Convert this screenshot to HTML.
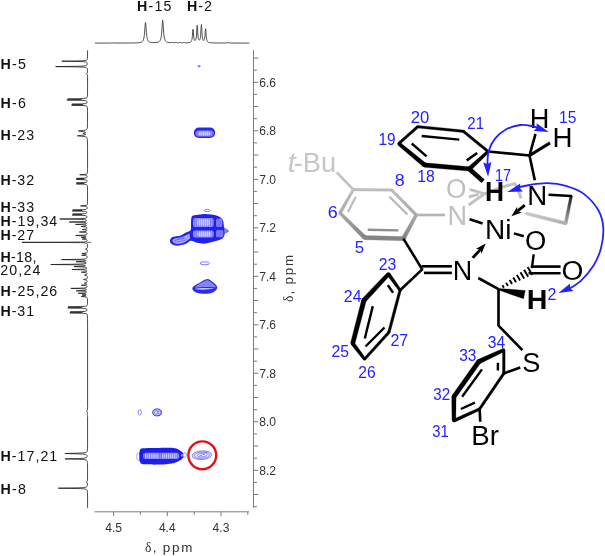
<!DOCTYPE html>
<html><head><meta charset="utf-8"><title>NOESY spectrum</title>
<style>html,body{margin:0;padding:0;background:#fff;}svg{display:block;will-change:transform;opacity:0.999}</style></head>
<body>
<svg width="605" height="556" viewBox="0 0 605 556" font-family='"Liberation Sans", "DejaVu Sans", sans-serif'>
<g stroke="#7a7a7a" stroke-width="1" fill="none" shape-rendering="auto">
<path d="M253.5 50.2V507.8"/>
<path d="M253.5 58.1h4.8"/>
<path d="M253.5 70.2h3.5"/>
<path d="M253.5 82.3h4.8"/>
<path d="M253.5 94.4h3.5"/>
<path d="M253.5 106.5h4.8"/>
<path d="M253.5 118.7h3.5"/>
<path d="M253.5 130.8h4.8"/>
<path d="M253.5 142.9h3.5"/>
<path d="M253.5 155.0h4.8"/>
<path d="M253.5 167.2h3.5"/>
<path d="M253.5 179.3h4.8"/>
<path d="M253.5 191.4h3.5"/>
<path d="M253.5 203.5h4.8"/>
<path d="M253.5 215.7h3.5"/>
<path d="M253.5 227.8h4.8"/>
<path d="M253.5 239.9h3.5"/>
<path d="M253.5 252.0h4.8"/>
<path d="M253.5 264.2h3.5"/>
<path d="M253.5 276.3h4.8"/>
<path d="M253.5 288.4h3.5"/>
<path d="M253.5 300.5h4.8"/>
<path d="M253.5 312.7h3.5"/>
<path d="M253.5 324.8h4.8"/>
<path d="M253.5 336.9h3.5"/>
<path d="M253.5 349.0h4.8"/>
<path d="M253.5 361.2h3.5"/>
<path d="M253.5 373.3h4.8"/>
<path d="M253.5 385.4h3.5"/>
<path d="M253.5 397.5h4.8"/>
<path d="M253.5 409.7h3.5"/>
<path d="M253.5 421.8h4.8"/>
<path d="M253.5 433.9h3.5"/>
<path d="M253.5 446.0h4.8"/>
<path d="M253.5 458.2h3.5"/>
<path d="M253.5 470.3h4.8"/>
<path d="M253.5 482.4h3.5"/>
<path d="M253.5 494.5h4.8"/>
<path d="M253.5 506.7h3.5"/>
<path d="M94.5 511.8H249"/>
<path d="M113.6 511.8v4.3"/>
<path d="M140.4 511.8v3"/>
<path d="M167.3 511.8v4.3"/>
<path d="M194.2 511.8v3"/>
<path d="M221.0 511.8v4.3"/>
<path d="M247.8 511.8v3"/>
</g>
<text x="259.2" y="86.6" font-size="12.0" fill="#333" font-weight="normal" font-style="normal" textLength="16.8" lengthAdjust="spacingAndGlyphs">6.6</text>
<text x="259.2" y="135.1" font-size="12.0" fill="#333" font-weight="normal" font-style="normal" textLength="16.8" lengthAdjust="spacingAndGlyphs">6.8</text>
<text x="259.2" y="183.6" font-size="12.0" fill="#333" font-weight="normal" font-style="normal" textLength="16.8" lengthAdjust="spacingAndGlyphs">7.0</text>
<text x="259.2" y="232.1" font-size="12.0" fill="#333" font-weight="normal" font-style="normal" textLength="16.8" lengthAdjust="spacingAndGlyphs">7.2</text>
<text x="259.2" y="280.6" font-size="12.0" fill="#333" font-weight="normal" font-style="normal" textLength="16.8" lengthAdjust="spacingAndGlyphs">7.4</text>
<text x="259.2" y="329.1" font-size="12.0" fill="#333" font-weight="normal" font-style="normal" textLength="16.8" lengthAdjust="spacingAndGlyphs">7.6</text>
<text x="259.2" y="377.6" font-size="12.0" fill="#333" font-weight="normal" font-style="normal" textLength="16.8" lengthAdjust="spacingAndGlyphs">7.8</text>
<text x="259.2" y="426.1" font-size="12.0" fill="#333" font-weight="normal" font-style="normal" textLength="16.8" lengthAdjust="spacingAndGlyphs">8.0</text>
<text x="259.2" y="474.6" font-size="12.0" fill="#333" font-weight="normal" font-style="normal" textLength="16.8" lengthAdjust="spacingAndGlyphs">8.2</text>
<text x="105.2" y="531.8" font-size="12.0" fill="#333" font-weight="normal" font-style="normal" textLength="16.8" lengthAdjust="spacingAndGlyphs">4.5</text>
<text x="158.9" y="531.8" font-size="12.0" fill="#333" font-weight="normal" font-style="normal" textLength="16.8" lengthAdjust="spacingAndGlyphs">4.4</text>
<text x="212.6" y="531.8" font-size="12.0" fill="#333" font-weight="normal" font-style="normal" textLength="16.8" lengthAdjust="spacingAndGlyphs">4.3</text>
<g transform="translate(145.1 551.8)" fill="#333">
<text x="0" y="0" font-size="13.6" font-family='"Liberation Serif", "DejaVu Serif", serif'>δ</text>
<text x="7.6" y="0" font-size="13.4">,</text>
<text x="17.6" y="0" font-size="13.4" textLength="29.6" lengthAdjust="spacing">ppm</text>
</g>
<g transform="translate(293.0 302.0) rotate(-90)" fill="#333">
<text x="0" y="0" font-size="13.6" font-family='"Liberation Serif", "DejaVu Serif", serif'>δ</text>
<text x="7.6" y="0" font-size="13.4">,</text>
<text x="17.6" y="0" font-size="13.4" textLength="29.6" lengthAdjust="spacing">ppm</text>
</g>
<path fill="none" stroke="#484848" stroke-width="0.95" stroke-linejoin="round" d="M94.90 43.09 L109.65 43.05 L110.90 42.99 L111.90 42.78 L113.15 42.99 L114.90 43.05 L133.15 42.96 L136.15 42.88 L138.40 42.73 L139.90 42.53 L141.15 42.20 L141.65 41.97 L142.15 41.65 L142.65 41.16 L142.90 40.82 L143.40 39.81 L143.90 38.04 L144.40 34.70 L144.65 32.04 L145.15 24.96 L145.40 22.48 L145.65 22.79 L146.40 32.62 L146.90 36.93 L147.40 39.20 L147.65 39.91 L148.15 40.85 L148.65 41.43 L149.40 41.93 L150.40 42.29 L151.40 42.47 L153.15 42.60 L155.15 42.59 L156.90 42.42 L158.15 42.12 L158.90 41.77 L159.40 41.41 L159.90 40.86 L160.15 40.47 L160.65 39.31 L161.15 37.24 L161.40 35.59 L161.65 33.32 L162.40 22.41 L162.65 20.19 L162.90 21.20 L163.65 32.19 L163.90 34.78 L164.40 38.01 L164.90 39.74 L165.15 40.30 L165.65 41.08 L166.40 41.75 L166.90 42.02 L167.65 42.29 L168.90 42.54 L170.40 42.65 L171.15 42.57 L171.90 42.22 L172.15 42.25 L172.90 42.65 L173.40 42.75 L174.15 42.78 L175.15 42.65 L175.90 42.22 L176.15 42.24 L176.90 42.69 L177.40 42.79 L178.15 42.83 L179.15 42.72 L179.90 42.34 L180.15 42.36 L180.90 42.73 L181.40 42.82 L182.15 42.84 L183.15 42.74 L183.90 42.42 L184.15 42.43 L184.90 42.73 L185.40 42.80 L187.90 42.73 L189.40 42.52 L190.40 42.15 L190.90 41.78 L191.40 41.09 L191.65 40.50 L191.90 39.58 L192.15 38.13 L192.40 35.79 L192.90 29.19 L193.15 29.58 L193.65 36.10 L193.90 38.12 L194.15 39.32 L194.40 40.00 L194.65 40.38 L194.90 40.53 L195.15 40.51 L195.40 40.32 L195.65 39.92 L195.90 39.22 L196.15 38.07 L196.40 36.15 L196.65 33.02 L197.15 25.29 L197.40 26.88 L197.90 34.99 L198.15 37.31 L198.40 38.69 L198.65 39.50 L198.90 39.95 L199.15 40.16 L199.40 40.17 L199.65 39.98 L199.90 39.56 L200.15 38.80 L200.40 37.51 L200.65 35.34 L201.15 27.20 L201.40 24.59 L201.65 27.22 L202.15 35.42 L202.40 37.61 L202.65 38.93 L202.90 39.73 L203.15 40.20 L203.40 40.44 L203.65 40.50 L203.90 40.38 L204.15 40.06 L204.40 39.44 L204.65 38.36 L204.90 36.51 L205.40 29.97 L205.65 28.72 L206.15 35.09 L206.40 37.69 L206.65 39.31 L206.90 40.33 L207.15 40.98 L207.40 41.43 L207.90 41.97 L208.40 42.27 L208.90 42.46 L209.90 42.67 L211.40 42.83 L216.15 42.99 L225.90 43.01 L226.90 42.92 L227.90 42.57 L228.15 42.59 L229.15 42.93 L230.65 43.04 L249.40 43.09"/>
<path fill="none" stroke="#1c1c1c" stroke-width="0.8" stroke-linejoin="round" d="M87.58 50.30 L87.54 56.05 L87.42 58.45 L87.29 59.15 L87.10 59.60 L86.81 59.95 L86.41 60.20 L85.80 60.40 L84.99 60.55 L81.73 60.80 L76.52 60.95 L61.74 61.20 L80.42 61.55 L83.48 61.70 L85.28 61.90 L85.96 62.05 L86.56 62.30 L86.90 62.60 L87.13 63.05 L87.23 63.85 L87.11 64.65 L86.82 65.15 L86.34 65.50 L85.60 65.75 L84.37 65.95 L80.34 66.20 L73.91 66.35 L55.65 66.60 L76.66 66.90 L83.30 67.15 L85.12 67.35 L85.82 67.50 L86.38 67.70 L86.77 67.95 L87.03 68.25 L87.22 68.65 L87.34 69.15 L87.49 70.95 L87.44 72.75 L87.36 73.05 L87.21 73.30 L86.56 73.80 L87.17 74.25 L87.38 74.55 L87.50 75.15 L87.55 76.35 L87.57 87.20 L87.52 94.10 L87.36 96.45 L87.22 97.10 L87.00 97.55 L86.57 97.95 L85.99 98.20 L85.02 98.40 L83.57 98.55 L78.86 98.75 L67.66 99.00 L79.33 99.30 L81.34 99.45 L81.44 99.50 L81.29 99.55 L80.89 99.60 L77.61 99.75 L66.88 100.00 L80.25 100.30 L84.01 100.50 L85.48 100.70 L86.28 100.95 L86.80 101.35 L87.04 101.90 L87.01 102.60 L86.72 103.10 L86.45 103.30 L86.09 103.45 L85.18 103.65 L81.96 103.90 L71.82 104.20 L81.06 104.50 L82.38 104.60 L82.67 104.65 L82.76 104.70 L82.65 104.75 L81.81 104.85 L79.84 104.95 L71.56 105.20 L81.91 105.50 L85.21 105.75 L86.15 105.95 L86.82 106.30 L87.18 106.80 L87.38 107.65 L87.49 109.15 L87.54 111.85 L87.52 123.55 L87.40 127.05 L87.27 128.05 L87.08 128.75 L86.80 129.25 L86.44 129.60 L85.90 129.90 L85.30 130.10 L83.70 130.40 L79.11 130.85 L78.36 131.00 L79.07 131.15 L83.51 131.60 L84.61 131.80 L85.36 132.05 L85.59 132.20 L85.72 132.40 L85.64 132.60 L85.41 132.75 L84.81 132.95 L83.22 133.25 L82.79 133.40 L82.99 133.50 L85.12 133.95 L85.52 134.15 L85.60 134.25 L85.62 134.40 L85.46 134.60 L85.06 134.80 L83.80 135.10 L81.72 135.35 L78.16 135.65 L77.37 135.80 L78.20 135.95 L83.30 136.40 L85.26 136.75 L86.08 137.05 L86.59 137.40 L86.96 137.90 L87.21 138.60 L87.37 139.60 L87.47 141.10 L87.56 147.15 L87.56 168.65 L87.51 171.65 L87.38 173.00 L87.24 173.45 L87.03 173.75 L86.64 174.00 L86.18 174.15 L84.30 174.40 L79.72 174.70 L84.28 175.00 L86.14 175.25 L86.69 175.45 L87.04 175.75 L87.21 176.20 L87.20 176.75 L87.05 177.20 L86.79 177.50 L86.28 177.75 L85.64 177.90 L83.64 178.10 L76.53 178.40 L82.99 178.70 L83.90 178.80 L84.10 178.85 L84.16 178.90 L84.08 178.95 L82.09 179.15 L76.23 179.40 L82.57 179.65 L85.24 179.85 L86.05 180.00 L86.49 180.15 L86.85 180.40 L87.04 180.70 L87.12 181.30 L86.95 181.80 L86.51 182.15 L85.88 182.35 L83.63 182.60 L76.53 182.90 L83.00 183.20 L83.92 183.30 L84.12 183.35 L84.18 183.40 L84.11 183.45 L82.12 183.65 L76.27 183.90 L82.62 184.15 L85.30 184.35 L86.12 184.50 L86.57 184.65 L86.95 184.90 L87.20 185.25 L87.37 185.85 L87.47 186.75 L87.55 190.75 L87.53 201.75 L87.45 203.60 L87.30 204.50 L87.14 204.85 L86.88 205.10 L86.09 205.40 L84.60 205.60 L80.49 205.90 L85.09 206.25 L86.41 206.50 L86.82 206.70 L87.08 207.00 L87.21 207.45 L87.19 208.05 L86.99 208.65 L86.59 209.05 L86.00 209.30 L84.94 209.50 L82.24 209.70 L72.68 210.00 L81.03 210.30 L82.03 210.40 L82.14 210.45 L82.00 210.50 L79.90 210.65 L72.27 210.90 L82.06 211.20 L84.80 211.40 L85.68 211.55 L86.36 211.80 L86.72 212.15 L86.80 212.60 L86.61 213.00 L86.16 213.30 L85.46 213.50 L84.39 213.65 L80.91 213.85 L72.61 214.10 L80.97 214.40 L81.98 214.50 L82.09 214.55 L81.95 214.60 L79.86 214.75 L72.24 215.00 L82.04 215.30 L85.16 215.55 L86.03 215.75 L86.59 216.05 L86.89 216.50 L86.92 217.10 L86.82 217.40 L86.65 217.65 L86.41 217.85 L86.00 218.05 L84.97 218.30 L83.03 218.50 L77.95 218.70 L59.76 219.00 L75.55 219.25 L81.11 219.40 L84.57 219.65 L85.61 219.85 L86.28 220.15 L86.47 220.35 L86.54 220.60 L86.47 220.85 L86.26 221.05 L85.63 221.30 L84.39 221.50 L81.09 221.70 L69.24 222.00 L79.53 222.25 L83.15 222.40 L85.38 222.65 L85.90 222.80 L86.24 223.00 L86.34 223.15 L86.35 223.30 L86.13 223.55 L85.61 223.75 L84.81 223.90 L82.37 224.10 L75.53 224.40 L83.89 224.80 L85.43 225.00 L85.95 225.15 L86.23 225.30 L86.37 225.50 L86.31 225.70 L86.10 225.85 L85.65 226.00 L84.77 226.15 L81.26 226.50 L85.55 226.95 L86.32 227.15 L86.74 227.40 L86.97 227.75 L87.02 228.20 L86.84 228.60 L86.50 228.85 L86.08 229.00 L85.31 229.15 L82.33 229.50 L85.28 229.85 L86.20 230.05 L86.60 230.25 L86.79 230.50 L86.79 230.80 L86.62 231.05 L86.02 231.35 L85.03 231.55 L79.38 232.00 L84.15 232.35 L85.38 232.50 L86.06 232.65 L86.61 232.90 L86.94 233.30 L87.01 233.85 L86.79 234.35 L86.49 234.60 L86.00 234.80 L84.54 235.05 L82.49 235.20 L75.59 235.50 L83.22 235.85 L84.80 236.00 L85.84 236.25 L86.03 236.40 L86.05 236.50 L85.98 236.60 L85.28 236.85 L81.14 237.30 L85.07 237.70 L85.78 237.85 L86.13 238.00 L86.26 238.15 L86.22 238.30 L85.66 238.55 L82.26 239.00 L85.29 239.35 L86.39 239.60 L86.75 239.80 L87.00 240.10 L87.10 240.50 L87.04 240.95 L86.86 241.25 L86.61 241.45 L86.26 241.60 L85.62 241.75 L83.45 241.95 L80.57 242.05 L65.05 242.20 L22.00 242.30 L22.00 242.40 L65.06 242.50 L80.59 242.65 L84.29 242.80 L85.93 243.00 L86.46 243.15 L86.90 243.40 L87.14 243.70 L87.29 244.10 L87.41 244.90 L87.45 246.20 L87.41 247.30 L87.29 247.95 L87.13 248.25 L86.82 248.50 L85.64 248.90 L85.50 249.00 L85.64 249.10 L86.81 249.50 L87.07 249.70 L87.20 249.90 L87.34 250.40 L87.37 251.15 L87.29 251.85 L87.12 252.35 L86.73 252.75 L86.06 253.00 L85.21 253.15 L81.94 253.50 L85.63 253.95 L86.20 254.15 L86.31 254.25 L86.33 254.40 L86.06 254.60 L85.27 254.80 L81.61 255.20 L85.40 255.60 L86.12 255.75 L86.70 256.00 L86.91 256.20 L87.07 256.50 L87.13 256.85 L87.13 257.30 L87.05 257.70 L86.89 258.05 L86.69 258.30 L86.42 258.50 L85.80 258.75 L84.78 258.95 L81.49 259.20 L76.25 259.35 L61.39 259.60 L78.38 259.90 L82.33 260.05 L84.52 260.25 L85.41 260.45 L85.78 260.70 L85.75 260.85 L85.62 260.95 L84.96 261.15 L82.42 261.40 L76.02 261.70 L82.48 262.00 L85.09 262.25 L85.83 262.45 L86.19 262.70 L86.25 262.85 L86.21 263.05 L85.89 263.35 L84.98 263.65 L83.59 263.85 L79.01 264.10 L71.66 264.25 L50.81 264.50 L74.73 264.80 L80.30 264.95 L83.42 265.15 L84.71 265.35 L85.24 265.55 L85.34 265.70 L85.20 265.85 L84.48 266.05 L81.53 266.30 L74.03 266.60 L81.72 266.90 L84.50 267.10 L85.44 267.25 L86.09 267.45 L86.47 267.70 L86.65 268.05 L86.56 268.40 L86.17 268.70 L85.48 268.90 L84.38 269.05 L80.70 269.25 L71.90 269.50 L80.73 269.75 L83.83 269.90 L85.77 270.15 L86.35 270.35 L86.67 270.60 L86.81 270.95 L86.71 271.25 L86.40 271.50 L86.01 271.65 L84.90 271.85 L81.35 272.20 L84.94 272.55 L85.87 272.70 L86.58 272.95 L86.84 273.15 L86.97 273.35 L87.04 273.60 L87.01 273.90 L86.89 274.15 L86.67 274.35 L86.05 274.60 L84.63 274.90 L84.42 275.00 L84.64 275.10 L86.41 275.50 L86.81 275.70 L87.03 275.90 L87.24 276.35 L87.32 277.00 L87.28 277.80 L87.11 278.35 L86.80 278.70 L86.27 278.95 L85.41 279.15 L83.76 279.40 L83.47 279.50 L83.75 279.60 L86.09 280.00 L86.61 280.20 L86.98 280.50 L87.16 280.90 L87.20 281.40 L87.12 281.85 L86.89 282.20 L86.60 282.40 L86.22 282.55 L84.59 282.90 L84.37 283.00 L84.58 283.10 L85.79 283.35 L86.40 283.55 L86.72 283.80 L86.79 283.95 L86.78 284.15 L86.65 284.35 L86.43 284.50 L85.59 284.75 L81.36 285.20 L84.94 285.55 L86.22 285.80 L86.71 286.05 L86.93 286.35 L86.98 286.80 L86.82 287.20 L86.46 287.50 L85.93 287.70 L85.16 287.85 L83.63 288.00 L80.30 288.15 L70.84 288.40 L80.26 288.65 L83.57 288.80 L85.60 289.05 L86.08 289.20 L86.38 289.40 L86.47 289.55 L86.46 289.70 L86.24 289.95 L85.75 290.15 L84.99 290.30 L82.70 290.50 L76.26 290.80 L84.12 291.20 L85.77 291.45 L86.18 291.60 L86.45 291.80 L86.54 292.10 L86.38 292.35 L85.90 292.60 L85.29 292.75 L83.60 292.95 L78.23 293.30 L84.08 293.70 L85.39 293.90 L85.95 294.15 L85.97 294.30 L85.86 294.40 L85.23 294.60 L82.04 295.00 L85.48 295.45 L85.95 295.65 L85.96 295.80 L85.82 295.90 L84.72 296.15 L81.28 296.50 L84.93 296.85 L85.88 297.00 L86.63 297.25 L87.08 297.65 L87.26 298.05 L87.38 298.70 L87.47 301.15 L87.39 303.90 L87.28 304.70 L87.10 305.25 L86.77 305.70 L86.28 306.00 L85.37 306.25 L84.23 306.40 L80.70 306.60 L68.18 306.90 L79.55 307.20 L81.16 307.30 L81.51 307.35 L81.61 307.40 L81.48 307.45 L77.97 307.65 L67.67 307.90 L80.50 308.20 L84.11 308.40 L85.52 308.60 L86.29 308.85 L86.75 309.20 L86.98 309.75 L86.98 310.10 L86.91 310.40 L86.77 310.65 L86.57 310.85 L85.93 311.15 L84.94 311.35 L81.39 311.60 L70.24 311.90 L80.40 312.20 L81.83 312.30 L82.15 312.35 L82.24 312.40 L82.13 312.45 L81.19 312.55 L78.99 312.65 L69.79 312.90 L81.29 313.20 L83.99 313.35 L85.29 313.50 L86.29 313.75 L86.86 314.10 L87.20 314.65 L87.39 315.50 L87.53 318.35 L87.58 325.90 L87.58 407.25 L87.54 409.05 L87.43 409.90 L87.20 410.35 L86.63 410.80 L86.58 410.90 L87.23 411.50 L87.43 412.00 L87.46 412.65 L87.38 413.20 L87.23 413.50 L86.78 414.00 L87.24 414.50 L87.42 414.85 L87.52 415.45 L87.57 416.50 L87.57 443.80 L87.52 448.15 L87.39 450.30 L87.15 451.40 L86.96 451.75 L86.70 452.05 L85.97 452.45 L84.64 452.75 L82.68 452.95 L79.83 453.10 L64.93 453.50 L79.81 453.90 L82.65 454.05 L84.24 454.20 L85.77 454.50 L86.26 454.70 L86.56 454.90 L86.83 455.20 L86.99 455.55 L87.08 456.00 L87.08 456.45 L86.99 456.85 L86.83 457.20 L86.56 457.50 L86.26 457.70 L85.41 458.00 L83.81 458.25 L81.89 458.40 L78.40 458.55 L64.93 458.90 L78.42 459.25 L82.68 459.45 L84.27 459.60 L85.45 459.80 L86.32 460.10 L86.85 460.50 L87.12 460.95 L87.30 461.55 L87.42 462.40 L87.50 463.70 L87.57 469.85 L87.54 479.20 L87.48 480.45 L87.33 481.10 L87.09 481.45 L86.41 481.90 L86.35 482.00 L86.40 482.10 L87.08 482.55 L87.32 482.95 L87.43 483.85 L87.36 485.25 L87.25 485.85 L87.08 486.30 L86.83 486.65 L86.52 486.90 L86.13 487.10 L85.46 487.30 L83.76 487.55 L81.65 487.70 L77.59 487.85 L58.29 488.20 L75.47 488.50 L80.60 488.65 L83.20 488.80 L84.62 488.95 L85.84 489.20 L86.53 489.50 L86.96 489.90 L87.21 490.40 L87.38 491.15 L87.48 492.20 L87.57 496.20 L87.59 507.45 l-0.8 0.8"/>
<path stroke="#555" stroke-width="0.9" d="M87 242.4H91"/>
<text x="0.5" y="68.5" font-size="14.2" fill="#111" textLength="25.3" lengthAdjust="spacing"><tspan font-weight="bold">H</tspan>-5</text>
<text x="0.5" y="107.5" font-size="14.2" fill="#111" textLength="25.3" lengthAdjust="spacing"><tspan font-weight="bold">H</tspan>-6</text>
<text x="0.5" y="139.7" font-size="14.2" fill="#111" textLength="33.6" lengthAdjust="spacing"><tspan font-weight="bold">H</tspan>-23</text>
<text x="0.5" y="185.3" font-size="14.2" fill="#111" textLength="33.6" lengthAdjust="spacing"><tspan font-weight="bold">H</tspan>-32</text>
<text x="0.5" y="212.2" font-size="14.2" fill="#111" textLength="33.6" lengthAdjust="spacing"><tspan font-weight="bold">H</tspan>-33</text>
<text x="0.5" y="226.1" font-size="14.2" fill="#111" textLength="56.7" lengthAdjust="spacing"><tspan font-weight="bold">H</tspan>-19,34</text>
<text x="0.5" y="240.4" font-size="14.2" fill="#111" textLength="33.6" lengthAdjust="spacing"><tspan font-weight="bold">H</tspan>-27</text>
<text x="0.5" y="261.8" font-size="14.2" fill="#111" textLength="35.9" lengthAdjust="spacing"><tspan font-weight="bold">H</tspan>-18,</text>
<text x="0.3" y="274.5" font-size="14.2" fill="#111" textLength="40" lengthAdjust="spacing">20,24</text>
<text x="0.5" y="296.1" font-size="14.2" fill="#111" textLength="56.7" lengthAdjust="spacing"><tspan font-weight="bold">H</tspan>-25,26</text>
<text x="0.5" y="315.7" font-size="14.2" fill="#111" textLength="33.6" lengthAdjust="spacing"><tspan font-weight="bold">H</tspan>-31</text>
<text x="0.5" y="461.4" font-size="14.2" fill="#111" textLength="56.7" lengthAdjust="spacing"><tspan font-weight="bold">H</tspan>-17,21</text>
<text x="0.5" y="494.1" font-size="14.2" fill="#111" textLength="25.3" lengthAdjust="spacing"><tspan font-weight="bold">H</tspan>-8</text>
<text x="136.9" y="10.5" font-size="14.2" fill="#111" textLength="34.6" lengthAdjust="spacing"><tspan font-weight="bold">H</tspan>-15</text>
<text x="187.1" y="10.7" font-size="14.2" fill="#111" textLength="24.8" lengthAdjust="spacing"><tspan font-weight="bold">H</tspan>-2</text>
<g>
<ellipse cx="199.1" cy="66.2" rx="1.3" ry="0.8" fill="#5a5af4" fill-opacity="0.5" stroke="#1414ee" stroke-width="0.5" stroke-opacity="0.8"/>
<rect x="193.9" y="127.6" width="21.2" height="10.3" rx="5" fill="#1414ee" fill-opacity="0.92" stroke="none" stroke-width="0"/>
<rect x="195.6" y="130.4" width="18.0" height="6.0" rx="2.8" fill="#fff" fill-opacity="0.5" stroke="none" stroke-width="0"/>
<rect x="198.5" y="131.4" width="12.0" height="4.0" rx="1.5" fill="#fff" fill-opacity="0.65" stroke="none" stroke-width="0"/>
<path d="M197.0 131.0V136.0M198.9 131.0V136.0M200.9 131.0V136.0M202.8 131.0V136.0M204.8 131.0V136.0M206.7 131.0V136.0M208.6 131.0V136.0M210.6 131.0V136.0M212.5 131.0V136.0" stroke="#1414ee" stroke-width="0.5" stroke-opacity="0.55" fill="none"/>
<ellipse cx="207.2" cy="210.5" rx="3.0" ry="1.1" fill="#fff" fill-opacity="1" stroke="#1414ee" stroke-width="0.7" stroke-opacity="0.75"/>
<path d="M191.3 218.5C191.6 216.9 191.6 216.3 193.0 215.6C194.4 214.9 197.6 214.7 199.7 214.4C201.8 214.1 203.4 213.8 205.6 213.9C207.8 214.0 210.7 214.4 212.9 214.8C215.1 215.2 217.3 215.7 219.0 216.6C220.7 217.5 222.0 218.6 222.8 220.0C223.6 221.4 223.6 223.7 223.8 225.0C224.1 226.3 223.5 226.6 224.3 227.6C225.1 228.6 228.7 230.1 228.8 231.1C228.9 232.1 225.6 232.9 224.8 233.8C224.0 234.8 224.7 235.8 224.0 236.8C223.3 237.8 222.3 238.8 220.5 239.6C218.7 240.4 215.5 241.1 212.9 241.8C210.3 242.5 207.7 243.4 205.0 243.6C202.3 243.8 199.3 243.3 197.0 242.8C194.7 242.3 192.8 240.7 191.0 240.8C189.2 240.9 188.2 242.7 186.5 243.4C184.8 244.1 182.8 244.7 181.0 245.1C179.2 245.5 177.5 245.8 175.9 245.6C174.3 245.4 172.5 244.8 171.5 244.0C170.5 243.2 169.9 241.8 169.9 240.8C169.9 239.8 170.7 238.5 171.5 237.8C172.3 237.1 173.5 236.9 175.0 236.5C176.5 236.1 178.7 236.3 180.5 235.6C182.3 234.9 184.3 233.4 186.0 232.5C187.7 231.6 189.8 231.4 190.6 230.2C191.4 228.9 190.9 226.9 191.0 225.0C191.1 223.1 191.0 220.1 191.3 218.5Z" fill="#1414ee" fill-opacity="0.95"/>
<path d="M224.3 227.6L228.6 231.1L224.3 233.6Z" fill="#fff" fill-opacity="0.45"/>
<rect x="193.1" y="217.9" width="20.5" height="9.1" rx="2" fill="#fff" fill-opacity="0.55" stroke="none" stroke-width="0"/>
<rect x="197.0" y="219.0" width="13.0" height="6.5" rx="2" fill="#fff" fill-opacity="0.45" stroke="none" stroke-width="0"/>
<rect x="216.0" y="218.4" width="6.4" height="8.6" rx="1.5" fill="#fff" fill-opacity="0.4" stroke="none" stroke-width="0"/>
<rect x="193.1" y="230.4" width="20.5" height="7.2" rx="2" fill="#fff" fill-opacity="0.55" stroke="none" stroke-width="0"/>
<rect x="197.5" y="231.5" width="13.5" height="5.0" rx="2" fill="#fff" fill-opacity="0.5" stroke="none" stroke-width="0"/>
<rect x="216.0" y="230.0" width="7.4" height="7.2" rx="1.5" fill="#fff" fill-opacity="0.4" stroke="none" stroke-width="0"/>
<path d="M194.5 218.2V226.8M196.5 218.2V226.8M198.5 218.2V226.8M200.5 218.2V226.8M202.5 218.2V226.8M204.5 218.2V226.8M206.5 218.2V226.8M208.5 218.2V226.8M210.5 218.2V226.8M212.5 218.2V226.8" stroke="#1414ee" stroke-width="0.45" stroke-opacity="0.45" fill="none"/>
<path d="M194.5 230.6V237.4M196.5 230.6V237.4M198.5 230.6V237.4M200.5 230.6V237.4M202.5 230.6V237.4M204.5 230.6V237.4M206.5 230.6V237.4M208.5 230.6V237.4M210.5 230.6V237.4M212.5 230.6V237.4" stroke="#1414ee" stroke-width="0.45" stroke-opacity="0.45" fill="none"/>
<path d="M172.3 240.5 C173 238.5 177 237.8 181 237.3 C184 236.5 187 234.5 189.5 233.5 L190 238.5 C187 241 184 243.3 180 243.8 C176 244.3 172.5 243.5 172.3 240.5Z" fill="#fff" fill-opacity="0.6"/>
<path d="M174 241 C176 239.5 181 239.5 185 238 M175 242.5 C178 241.5 183 241.5 187 239.5 M176.5 239.2 C179 238.6 182 238.4 184.5 237.3" stroke="#1414ee" stroke-width="0.5" stroke-opacity="0.6" fill="none"/>
<ellipse cx="204.8" cy="263.3" rx="4.8" ry="1.5" fill="#fff" fill-opacity="1" stroke="#1414ee" stroke-width="0.8" stroke-opacity="0.7"/>
<path d="M207.3 279.0C209.4 278.9 210.9 280.6 212.5 281.8C214.1 283.0 216.1 284.7 216.8 286.0C217.5 287.3 217.3 288.4 216.5 289.5C215.7 290.6 213.9 292.1 212.0 292.8C210.1 293.5 207.7 293.9 205.0 293.8C202.3 293.8 198.1 293.3 196.0 292.5C193.9 291.7 192.7 290.1 192.4 289.0C192.1 287.9 192.7 287.1 194.0 286.0C195.3 284.9 197.8 283.7 200.0 282.5C202.2 281.3 205.2 279.1 207.3 279.0Z" fill="#1414ee" fill-opacity="0.9"/>
<path d="M207.3 280.0 C211 281.8 215.4 285 215.8 287.3 C210 286.8 200 286.8 194.8 287.8 C196.5 284.8 203 281.6 207.3 280.0Z" fill="#fff" fill-opacity="0.42"/>
<path d="M194.6 288.9 C198 287.9 210 287.8 214.2 288.6 C210 290 198 290 194.6 288.9Z" fill="#fff" fill-opacity="0.7"/>
<ellipse cx="139.8" cy="412.4" rx="1.6" ry="2.7" fill="#fff" fill-opacity="1" stroke="#1414ee" stroke-width="0.7" stroke-opacity="0.7"/>
<ellipse cx="157.1" cy="412.4" rx="4.4" ry="3.5" fill="#5a5af4" fill-opacity="0.35" stroke="#1414ee" stroke-width="0.9" stroke-opacity="0.9"/>
<ellipse cx="156.0" cy="412.4" rx="1.3" ry="2.0" fill="#fff" fill-opacity="0.7" stroke="#1414ee" stroke-width="0.5" stroke-opacity="0.8"/>
<ellipse cx="159.2" cy="412.4" rx="1.0" ry="1.8" fill="#fff" fill-opacity="0.7" stroke="#1414ee" stroke-width="0.5" stroke-opacity="0.8"/>
<ellipse cx="138.9" cy="456.8" rx="2.3" ry="3.8" fill="#fff" fill-opacity="1" stroke="#1414ee" stroke-width="0.6" stroke-opacity="0.6"/>
<path d="M139.7 451.0C140.1 450.0 139.8 448.7 142.5 448.3C145.2 447.9 155.7 447.9 160.0 447.9C164.3 447.9 172.1 447.7 175.0 448.2C177.9 448.7 180.2 450.5 181.5 451.5C182.8 452.5 184.7 454.3 184.5 455.5C184.3 456.7 181.7 459.4 180.0 460.5C178.3 461.6 174.7 463.0 172.0 463.5C169.3 464.0 163.9 464.5 160.0 464.6C156.1 464.7 145.7 464.7 143.0 464.3C140.3 463.9 140.3 462.6 139.8 461.5C139.3 460.4 139.2 457.4 139.2 456.0C139.2 454.6 139.3 452.0 139.7 451.0Z" fill="#1414ee" fill-opacity="0.96"/>
<rect x="143.2" y="452.8" width="36.0" height="6.1" rx="2.2" fill="#fff" fill-opacity="0.55" stroke="none" stroke-width="0"/>
<rect x="145.0" y="453.6" width="13.5" height="4.6" rx="1.5" fill="#fff" fill-opacity="0.4" stroke="none" stroke-width="0"/>
<rect x="162.0" y="453.6" width="15.0" height="4.6" rx="1.5" fill="#fff" fill-opacity="0.4" stroke="none" stroke-width="0"/>
<path d="M144.5 453.0V458.8M146.6 453.0V458.8M148.7 453.0V458.8M150.8 453.0V458.8M152.9 453.0V458.8M155.0 453.0V458.8M157.1 453.0V458.8M159.2 453.0V458.8M161.2 453.0V458.8M163.3 453.0V458.8M165.4 453.0V458.8M167.5 453.0V458.8M169.6 453.0V458.8M171.7 453.0V458.8M173.8 453.0V458.8M175.9 453.0V458.8M178.0 453.0V458.8" stroke="#1414ee" stroke-width="0.6" stroke-opacity="0.6" fill="none"/>
<ellipse cx="184.6" cy="455.0" rx="1.9" ry="2.3" fill="#fff" fill-opacity="1" stroke="#1414ee" stroke-width="0.6" stroke-opacity="0.7"/>
<ellipse cx="181.9" cy="455.3" rx="1.2" ry="1.8" fill="#fff" fill-opacity="0.5" stroke="#1414ee" stroke-width="0.5" stroke-opacity="0.6"/>
<ellipse cx="201.9" cy="455.2" rx="9.8" ry="4.3" fill="#5a5af4" fill-opacity="0.15" stroke="#1414ee" stroke-width="0.8" stroke-opacity="0.6" transform="rotate(-4 201.9 455.2)"/>
<ellipse cx="201.9" cy="455.2" rx="7.6" ry="3.1" fill="#fff" fill-opacity="0.5" stroke="#1414ee" stroke-width="0.7" stroke-opacity="0.65" transform="rotate(-4 201.9 455.2)"/>
<ellipse cx="202.3" cy="455.0" rx="5.0" ry="1.8" fill="#fff" fill-opacity="0.8" stroke="#1414ee" stroke-width="0.6" stroke-opacity="0.8" transform="rotate(-8 202.3 455.0)"/>
<path d="M199.3 456.0L205 454.0" stroke="#1414ee" stroke-width="0.7" stroke-opacity="0.8"/>
<circle cx="202.3" cy="455.3" r="13.9" fill="none" stroke="#e21317" stroke-width="2.4"/>
</g>
<g>
<linearGradient id="g1" gradientUnits="userSpaceOnUse" x1="353.4" y1="189.6" x2="391.6" y2="190.0"><stop offset="0" stop-color="#bebebe"/><stop offset="1" stop-color="#bcbcbc"/></linearGradient>
<path d="M353.39 190.92L391.59 191.32L391.61 188.68L353.41 188.28Z" fill="url(#g1)" stroke="url(#g1)" stroke-width="0.3" stroke-linejoin="round"/>
<linearGradient id="g2" gradientUnits="userSpaceOnUse" x1="391.6" y1="190.0" x2="416.3" y2="215.0"><stop offset="0" stop-color="#bcbcbc"/><stop offset="1" stop-color="#a8a8a8"/></linearGradient>
<path d="M390.66 190.93L415.20 216.08L417.40 213.92L392.54 189.07Z" fill="url(#g2)" stroke="url(#g2)" stroke-width="0.3" stroke-linejoin="round"/>
<linearGradient id="g3" gradientUnits="userSpaceOnUse" x1="416.3" y1="215.0" x2="403.4" y2="238.6"><stop offset="0" stop-color="#a8a8a8"/><stop offset="1" stop-color="#858585"/></linearGradient>
<path d="M414.95 214.26L401.57 237.60L405.23 239.60L417.65 215.74Z" fill="url(#g3)" stroke="url(#g3)" stroke-width="0.3" stroke-linejoin="round"/>
<path d="M403.45 236.51L364.65 235.51L364.55 239.69L403.35 240.69Z" fill="#858585" stroke="#858585" stroke-width="0.3" stroke-linejoin="round"/>
<linearGradient id="g4" gradientUnits="userSpaceOnUse" x1="364.6" y1="237.6" x2="340.0" y2="213.0"><stop offset="0" stop-color="#858585"/><stop offset="1" stop-color="#a8a8a8"/></linearGradient>
<path d="M366.08 236.12L341.09 211.91L338.91 214.09L363.12 239.08Z" fill="url(#g4)" stroke="url(#g4)" stroke-width="0.3" stroke-linejoin="round"/>
<linearGradient id="g5" gradientUnits="userSpaceOnUse" x1="340.0" y1="213.0" x2="353.4" y2="189.6"><stop offset="0" stop-color="#a8a8a8"/><stop offset="1" stop-color="#bebebe"/></linearGradient>
<path d="M341.34 213.77L354.55 190.26L352.25 188.94L338.66 212.23Z" fill="url(#g5)" stroke="url(#g5)" stroke-width="0.3" stroke-linejoin="round"/>
<circle cx="353.4" cy="189.6" r="1.32" fill="#bebebe"/>
<circle cx="391.6" cy="190.0" r="1.32" fill="#bcbcbc"/>
<circle cx="416.3" cy="215.0" r="1.54" fill="#a8a8a8"/>
<circle cx="403.4" cy="238.6" r="2.09" fill="#858585"/>
<circle cx="364.6" cy="237.6" r="2.09" fill="#858585"/>
<circle cx="340.0" cy="213.0" r="1.54" fill="#a8a8a8"/>
<path d="M355.8 196.7L347.9 212.0" stroke="#bdbdbd" stroke-width="2.2" stroke-linecap="butt" fill="none"/>
<path d="M389.5 196.7L407.4 214.5" stroke="#b8b8b8" stroke-width="2.2" stroke-linecap="butt" fill="none"/>
<path d="M367.7 229.8L398.4 230.4" stroke="#8f8f8f" stroke-width="2.4200000000000004" stroke-linecap="butt" fill="none"/>
<path d="M336.7 172.3L353.4 189.6" stroke="#c0c0c0" stroke-width="2.64" stroke-linecap="butt" fill="none"/>
<path d="M416.3 215.0L445.0 215.0" stroke="#b4b4b4" stroke-width="2.64" stroke-linecap="butt" fill="none"/>
<text transform="translate(289.00 172.40) scale(1.022 1)" x="-1.25" y="0" font-size="27.8" fill="#c6c6c6" font-weight="normal" font-style="italic">t</text>
<text transform="translate(295.00 172.40) scale(0.978 1)" x="-1.25" y="0" font-size="27.8" fill="#c6c6c6" font-weight="normal" font-style="normal">-Bu</text>
<text transform="translate(447.30 197.60) scale(0.958 1)" x="-1.31" y="0" font-size="27.4" fill="#bfbfbf" font-weight="normal" font-style="normal">O</text>
<text transform="translate(449.80 224.80) scale(0.977 1)" x="-2.25" y="0" font-size="27.8" fill="#bfbfbf" font-weight="normal" font-style="normal">N</text>
<path d="M469.6 189.4L484.6 193.8" stroke="#c2c2c2" stroke-width="2.9700000000000006" stroke-linecap="butt" fill="none"/>
<path d="M468.8 196.9L478.5 194.4" stroke="#c2c2c2" stroke-width="2.9700000000000006" stroke-linecap="butt" fill="none"/>
<path d="M468.6 205.0L484.6 193.8" stroke="#c2c2c2" stroke-width="2.9700000000000006" stroke-linecap="butt" fill="none"/>
<path d="M484.6 193.8 L502.5 187.0 L514.6 183.6 L518.0 188.5 L521.0 198.5" fill="none" stroke="#c2c2c2" stroke-width="3.0" stroke-linejoin="round"/>
<linearGradient id="g6" gradientUnits="userSpaceOnUse" x1="526.4" y1="213.6" x2="565.7" y2="223.4"><stop offset="0" stop-color="#c8c8c8"/><stop offset="1" stop-color="#b0b0b0"/></linearGradient>
<path d="M526.03 215.09L565.30 225.00L566.10 221.80L526.77 212.11Z" fill="url(#g6)" stroke="url(#g6)" stroke-width="0.3" stroke-linejoin="round"/>
<circle cx="526.4" cy="213.6" r="1.40" fill="#c8c8c8"/>
<linearGradient id="g7" gradientUnits="userSpaceOnUse" x1="565.7" y1="223.4" x2="571.2" y2="196.0"><stop offset="0" stop-color="#b0b0b0"/><stop offset="1" stop-color="#1a1a1a"/></linearGradient>
<path d="M567.32 223.72L572.49 196.26L569.91 195.74L564.08 223.08Z" fill="url(#g7)" stroke="url(#g7)" stroke-width="0.3" stroke-linejoin="round"/>
<circle cx="565.7" cy="223.4" r="1.50" fill="#b0b0b0"/>
<path d="M548.5 194.7L571.2 196.0" stroke="#000" stroke-width="2.64" stroke-linecap="butt" fill="none"/>
<circle cx="571.2" cy="196.0" r="1.20" fill="#000"/>
<path d="M399.68 144.58L418.58 127.68L416.82 125.72L397.92 142.62Z" fill="#000" stroke="#000" stroke-width="0.3" stroke-linejoin="round"/>
<path d="M417.57 128.01L463.17 132.61L463.43 129.99L417.83 125.39Z" fill="#000" stroke="#000" stroke-width="0.3" stroke-linejoin="round"/>
<path d="M462.47 132.32L487.27 152.52L488.93 150.48L464.13 130.28Z" fill="#000" stroke="#000" stroke-width="0.3" stroke-linejoin="round"/>
<path d="M487.13 150.45L467.85 167.33L470.75 170.47L489.07 152.55Z" fill="#000" stroke="#000" stroke-width="0.3" stroke-linejoin="round"/>
<path d="M469.49 166.68L424.79 162.78L424.41 167.22L469.11 171.12Z" fill="#000" stroke="#000" stroke-width="0.3" stroke-linejoin="round"/>
<path d="M426.02 163.28L399.92 142.25L397.68 144.95L423.18 166.72Z" fill="#000" stroke="#000" stroke-width="0.3" stroke-linejoin="round"/>
<circle cx="398.8" cy="143.6" r="1.32" fill="#000"/>
<circle cx="417.7" cy="126.7" r="1.32" fill="#000"/>
<circle cx="463.3" cy="131.3" r="1.32" fill="#000"/>
<circle cx="488.1" cy="151.5" r="1.32" fill="#000"/>
<circle cx="469.3" cy="168.9" r="2.14" fill="#000"/>
<circle cx="424.6" cy="165.0" r="2.23" fill="#000"/>
<path d="M421.7 136.0L459.3 139.6" stroke="#000" stroke-width="2.4200000000000004" stroke-linecap="butt" fill="none"/>
<path d="M411.7 143.5L426.6 156.4" stroke="#000" stroke-width="2.4200000000000004" stroke-linecap="butt" fill="none"/>
<path d="M466.7 160.4L477.2 153.0" stroke="#000" stroke-width="2.64" stroke-linecap="butt" fill="none"/>
<path d="M469.3 168.9L483.1 181.2" stroke="#000" stroke-width="4.65" stroke-linecap="butt" fill="none"/>
<path d="M488.1 151.5L529.5 155.5" stroke="#000" stroke-width="2.64" stroke-linecap="butt" fill="none"/>
<path d="M529.5 155.5L535.5 133.9" stroke="#000" stroke-width="2.64" stroke-linecap="butt" fill="none"/>
<path d="M530.19 156.63L550.65 144.22L549.15 141.78L528.81 154.37Z" fill="#000" stroke="#000" stroke-width="0.3" stroke-linejoin="round"/>
<path d="M529.5 155.5L534.8 180.2" stroke="#000" stroke-width="2.64" stroke-linecap="butt" fill="none"/>
<circle cx="529.5" cy="155.5" r="1.20" fill="#000"/>
<text transform="translate(531.90 128.20) scale(0.977 1)" x="-2.25" y="0" font-size="27.8" fill="#000" font-weight="normal" font-style="normal">H</text>
<text transform="translate(554.80 146.50) scale(0.996 1)" x="-2.25" y="0" font-size="27.8" fill="#000" font-weight="normal" font-style="normal">H</text>
<text transform="translate(486.90 201.40) scale(0.950 1)" x="-1.88" y="0" font-size="27.8" fill="#000" font-weight="bold" font-style="normal">H</text>
<text transform="translate(529.60 204.70) scale(0.996 1)" x="-2.25" y="0" font-size="27.8" fill="#000" font-weight="normal" font-style="normal">N</text>
<text transform="translate(487.30 238.80) scale(1.008 1)" x="-2.25" y="0" font-size="27.8" fill="#000" font-weight="normal" font-style="normal">Ni</text>
<path d="M469.6 219.3L482.6 223.5" stroke="#000" stroke-width="2.53" stroke-linecap="butt" fill="none"/>
<path d="M513.9 233.4L523.8 236.3" stroke="#000" stroke-width="2.53" stroke-linecap="butt" fill="none"/>
<text transform="translate(526.20 249.90) scale(1.007 1)" x="-1.31" y="0" font-size="27.2" fill="#000" font-weight="normal" font-style="normal">O</text>
<path d="M533.7 254.4L531.9 268.0" stroke="#000" stroke-width="2.4200000000000004" stroke-linecap="butt" fill="none"/>
<path d="M530.8 266.6L560.6 266.6" stroke="#000" stroke-width="2.64" stroke-linecap="butt" fill="none"/>
<path d="M528.5 273.3L560.6 273.3" stroke="#000" stroke-width="2.64" stroke-linecap="butt" fill="none"/>
<text transform="translate(562.90 280.40) scale(1.027 1)" x="-1.31" y="0" font-size="27.4" fill="#000" font-weight="normal" font-style="normal">O</text>
<path d="M526.5 204.4L512.5 215.3" stroke="#fff" stroke-width="5.58" stroke-linecap="butt" fill="none"/>
<path d="M524.8 205.2L517.5 211.2" stroke="#000" stroke-width="2.8600000000000003" stroke-linecap="butt" fill="none"/>
<path d="M511.4 216.2L517.2 206.7L517.5 211.2L521.9 212.4Z" fill="#000"/>
<path d="M472.7 257.9L480.5 249.4" stroke="#000" stroke-width="2.8600000000000003" stroke-linecap="butt" fill="none"/>
<path d="M485.8 243.6L481.4 253.8L480.5 249.4L476.0 248.8Z" fill="#000"/>
<text transform="translate(455.00 279.90) scale(0.970 1)" x="-2.25" y="0" font-size="27.8" fill="#000" font-weight="normal" font-style="normal">N</text>
<path d="M403.4 238.6L422.2 269.4" stroke="#000" stroke-width="2.64" stroke-linecap="butt" fill="none"/>
<path d="M421.6 266.3L451.9 266.3" stroke="#000" stroke-width="2.64" stroke-linecap="butt" fill="none"/>
<path d="M424.0 272.9L451.9 272.9" stroke="#000" stroke-width="2.64" stroke-linecap="butt" fill="none"/>
<path d="M478.3 278.0L498.5 289.2" stroke="#000" stroke-width="2.64" stroke-linecap="butt" fill="none"/>
<path d="M503.87 287.67L502.50 285.31" stroke="#000" stroke-width="1.9"/>
<path d="M507.92 285.87L506.09 282.71" stroke="#000" stroke-width="1.9"/>
<path d="M511.97 284.06L509.68 280.10" stroke="#000" stroke-width="1.9"/>
<path d="M516.02 282.25L513.27 277.49" stroke="#000" stroke-width="1.9"/>
<path d="M520.07 280.45L516.86 274.88" stroke="#000" stroke-width="1.9"/>
<path d="M524.12 278.64L520.44 272.28" stroke="#000" stroke-width="1.9"/>
<path d="M528.17 276.83L524.03 269.67" stroke="#000" stroke-width="1.9"/>
<path d="M532.22 275.03L527.62 267.06" stroke="#000" stroke-width="1.9"/>
<path d="M498.33 290.01L523.53 298.79L525.27 290.41L498.67 288.39Z" fill="#000" stroke="#000" stroke-width="0.3" stroke-linejoin="round"/>
<text transform="translate(528.80 309.00) scale(1.030 1)" x="-1.88" y="0" font-size="27.8" fill="#000" font-weight="bold" font-style="normal">H</text>
<path d="M498.5 288.5L498.5 325.6" stroke="#000" stroke-width="2.64" stroke-linecap="butt" fill="none"/>
<path d="M498.5 325.6L522.4 350.1" stroke="#000" stroke-width="2.64" stroke-linecap="butt" fill="none"/>
<circle cx="498.5" cy="325.6" r="1.20" fill="#000"/>
<text transform="translate(523.60 372.20) scale(0.956 1)" x="-1.31" y="0" font-size="28.4" fill="#000" font-weight="normal" font-style="normal">S</text>
<path d="M503.10 348.41L477.83 359.54L479.77 363.66L504.50 351.39Z" fill="#000" stroke="#000" stroke-width="0.3" stroke-linejoin="round"/>
<path d="M476.94 360.28L452.04 395.38L455.76 398.02L480.66 362.92Z" fill="#000" stroke="#000" stroke-width="0.3" stroke-linejoin="round"/>
<path d="M451.71 396.70L451.99 420.70L455.81 420.70L456.09 396.70Z" fill="#000" stroke="#000" stroke-width="0.3" stroke-linejoin="round"/>
<path d="M454.56 422.15L480.15 410.20L479.05 407.80L453.24 419.25Z" fill="#000" stroke="#000" stroke-width="0.3" stroke-linejoin="round"/>
<path d="M480.69 409.74L504.89 374.14L502.71 372.66L478.51 408.26Z" fill="#000" stroke="#000" stroke-width="0.3" stroke-linejoin="round"/>
<path d="M505.12 373.40L505.12 349.90L502.48 349.90L502.48 373.40Z" fill="#000" stroke="#000" stroke-width="0.3" stroke-linejoin="round"/>
<circle cx="503.8" cy="349.9" r="1.32" fill="#000"/>
<circle cx="478.8" cy="361.6" r="2.28" fill="#000"/>
<circle cx="453.9" cy="396.7" r="2.19" fill="#000"/>
<circle cx="453.9" cy="420.7" r="1.59" fill="#000"/>
<circle cx="479.6" cy="409.0" r="1.32" fill="#000"/>
<circle cx="503.8" cy="373.4" r="1.32" fill="#000"/>
<path d="M497.9 362.8L497.9 370.5" stroke="#000" stroke-width="2.4200000000000004" stroke-linecap="butt" fill="none"/>
<path d="M482.0 369.4L462.1 396.8" stroke="#000" stroke-width="2.4200000000000004" stroke-linecap="butt" fill="none"/>
<path d="M460.9 409.0L474.9 402.7" stroke="#000" stroke-width="2.4200000000000004" stroke-linecap="butt" fill="none"/>
<path d="M503.8 373.4L520.3 367.6" stroke="#000" stroke-width="2.64" stroke-linecap="butt" fill="none"/>
<path d="M479.6 409.0L480.3 421.8" stroke="#000" stroke-width="2.64" stroke-linecap="butt" fill="none"/>
<text transform="translate(473.60 445.30) scale(0.995 1)" x="-2.25" y="0" font-size="27.8" fill="#000" font-weight="normal" font-style="normal">Br</text>
<path d="M401.17 289.43L389.93 273.07L387.07 275.13L399.03 290.97Z" fill="#000" stroke="#000" stroke-width="0.3" stroke-linejoin="round"/>
<path d="M387.06 272.74L362.21 298.71L365.59 301.89L389.94 275.46Z" fill="#000" stroke="#000" stroke-width="0.3" stroke-linejoin="round"/>
<path d="M361.65 299.72L350.54 342.94L354.86 344.06L366.15 300.88Z" fill="#000" stroke="#000" stroke-width="0.3" stroke-linejoin="round"/>
<path d="M351.21 344.63L363.46 360.06L365.74 358.34L354.19 342.37Z" fill="#000" stroke="#000" stroke-width="0.3" stroke-linejoin="round"/>
<path d="M365.58 360.08L389.88 333.18L387.92 331.42L363.62 358.32Z" fill="#000" stroke="#000" stroke-width="0.3" stroke-linejoin="round"/>
<path d="M390.18 332.64L401.38 290.54L398.82 289.86L387.62 331.96Z" fill="#000" stroke="#000" stroke-width="0.3" stroke-linejoin="round"/>
<circle cx="400.1" cy="290.2" r="1.32" fill="#000"/>
<circle cx="388.5" cy="274.1" r="1.76" fill="#000"/>
<circle cx="363.9" cy="300.3" r="2.33" fill="#000"/>
<circle cx="352.7" cy="343.5" r="1.87" fill="#000"/>
<circle cx="364.6" cy="359.2" r="1.32" fill="#000"/>
<circle cx="388.9" cy="332.3" r="1.32" fill="#000"/>
<path d="M400.1 290.2L422.2 269.4" stroke="#000" stroke-width="2.64" stroke-linecap="butt" fill="none"/>
<circle cx="422.2" cy="269.4" r="1.20" fill="#000"/>
<path d="M387.8 285.1L393.1 292.8" stroke="#000" stroke-width="2.4200000000000004" stroke-linecap="butt" fill="none"/>
<path d="M372.8 306.1L364.8 338.5" stroke="#000" stroke-width="2.4200000000000004" stroke-linecap="butt" fill="none"/>
<path d="M365.5 346.5L384.5 327.5" stroke="#000" stroke-width="2.4200000000000004" stroke-linecap="butt" fill="none"/>
<text transform="translate(411.60 122.60) scale(1.056 1)" x="-0.81" y="0" font-size="15.8" fill="#2222ff" font-weight="normal" font-style="normal">20</text>
<text transform="translate(468.10 129.00) scale(0.950 1)" x="-0.81" y="0" font-size="15.8" fill="#2222ff" font-weight="normal" font-style="normal">21</text>
<text transform="translate(379.70 145.40) scale(0.975 1)" x="-1.19" y="0" font-size="15.8" fill="#2222ff" font-weight="normal" font-style="normal">19</text>
<text transform="translate(418.40 181.80) scale(0.997 1)" x="-1.19" y="0" font-size="15.8" fill="#2222ff" font-weight="normal" font-style="normal">18</text>
<text transform="translate(395.50 186.30) scale(1.129 1)" x="-0.69" y="0" font-size="15.8" fill="#2222ff" font-weight="normal" font-style="normal">8</text>
<text transform="translate(328.70 217.70) scale(1.135 1)" x="-0.81" y="0" font-size="15.8" fill="#2222ff" font-weight="normal" font-style="normal">6</text>
<text transform="translate(355.50 253.10) scale(1.067 1)" x="-0.62" y="0" font-size="15.8" fill="#2222ff" font-weight="normal" font-style="normal">5</text>
<text transform="translate(379.50 270.20) scale(0.998 1)" x="-0.81" y="0" font-size="15.8" fill="#2222ff" font-weight="normal" font-style="normal">23</text>
<text transform="translate(344.60 301.70) scale(1.005 1)" x="-0.81" y="0" font-size="15.8" fill="#2222ff" font-weight="normal" font-style="normal">24</text>
<text transform="translate(332.20 356.70) scale(0.998 1)" x="-0.81" y="0" font-size="15.8" fill="#2222ff" font-weight="normal" font-style="normal">25</text>
<text transform="translate(359.10 377.70) scale(0.986 1)" x="-0.81" y="0" font-size="15.8" fill="#2222ff" font-weight="normal" font-style="normal">26</text>
<text transform="translate(391.20 345.50) scale(1.006 1)" x="-0.81" y="0" font-size="15.8" fill="#2222ff" font-weight="normal" font-style="normal">27</text>
<text transform="translate(488.40 348.10) scale(0.988 1)" x="-0.62" y="0" font-size="15.8" fill="#2222ff" font-weight="normal" font-style="normal">34</text>
<text transform="translate(459.80 361.40) scale(0.975 1)" x="-0.62" y="0" font-size="15.8" fill="#2222ff" font-weight="normal" font-style="normal">33</text>
<text transform="translate(433.90 400.00) scale(0.958 1)" x="-0.62" y="0" font-size="15.8" fill="#2222ff" font-weight="normal" font-style="normal">32</text>
<text transform="translate(432.90 436.60) scale(0.939 1)" x="-0.62" y="0" font-size="15.8" fill="#2222ff" font-weight="normal" font-style="normal">31</text>
<text transform="translate(560.20 122.80) scale(0.990 1)" x="-1.19" y="0" font-size="15.8" fill="#2222ff" font-weight="normal" font-style="normal">15</text>
<text transform="translate(496.10 181.20) scale(0.915 1)" x="-1.19" y="0" font-size="15.8" fill="#2222ff" font-weight="normal" font-style="normal">17</text>
<text transform="translate(548.30 299.60) scale(1.016 1)" x="-0.81" y="0" font-size="15.8" fill="#2222ff" font-weight="normal" font-style="normal">2</text>
<path d="M487.6 168.5C487.6 168.1 487.2 168.8 487.4 165.9C487.6 163.1 487.3 156.0 488.6 151.4C489.9 146.8 492.1 142.2 495.0 138.6C497.9 134.9 501.6 131.8 505.9 129.5C510.1 127.2 516.0 125.5 520.5 125.0C525.0 124.5 529.9 125.7 533.2 126.3C536.5 126.9 539.3 128.2 540.5 128.6" fill="none" stroke="#2222ff" stroke-width="1.8"/>
<path d="M488.1 176.8L483.2 162.5L487.4 164.1L491.4 162.1Z" fill="#2222ff"/>
<path d="M548.8 132.1L533.8 131.0L536.8 127.7L536.6 123.3Z" fill="#2222ff"/>
<path d="M516.0 187.8C518.2 187.3 524.2 185.8 529.5 185.0C534.8 184.2 541.6 183.0 547.7 183.2C553.8 183.3 559.8 184.1 565.9 185.9C572.0 187.7 578.7 190.0 584.1 194.1C589.5 198.2 595.2 204.7 598.4 210.3C601.6 216.0 602.9 221.7 603.3 228.0C603.7 234.3 602.6 241.8 601.0 248.1C599.4 254.4 596.8 260.3 593.4 265.8C590.0 271.3 585.0 277.0 580.8 280.9C576.6 284.8 570.3 288.0 568.2 289.4" fill="none" stroke="#2222ff" stroke-width="1.8"/>
<path d="M507.2 192.0L520.3 183.6L519.8 188.1L522.8 191.6Z" fill="#2222ff"/>
<path d="M558.4 293.0L570.1 283.6L570.1 288.0L573.3 291.1Z" fill="#2222ff"/>
</g>
</svg>
</body></html>
